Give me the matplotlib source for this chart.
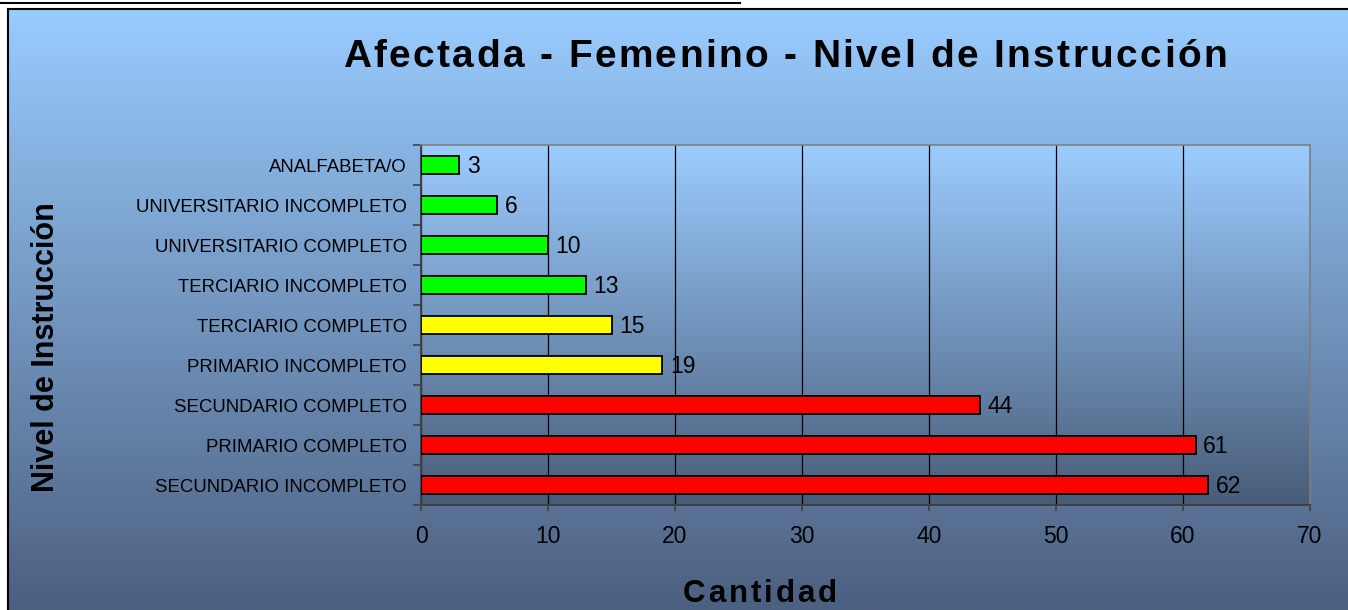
import numpy as np
import matplotlib
matplotlib.use("Agg")
import matplotlib.pyplot as plt
from matplotlib.colors import LinearSegmentedColormap
from matplotlib.lines import Line2D
from matplotlib.transforms import IdentityTransform

plt.rcParams["font.family"] = ["Liberation Sans", "DejaVu Sans"]

# data, bottom to top as drawn
categories = [
    "SECUNDARIO INCOMPLETO", "PRIMARIO COMPLETO", "SECUNDARIO COMPLETO",
    "PRIMARIO INCOMPLETO", "TERCIARIO COMPLETO", "TERCIARIO INCOMPLETO",
    "UNIVERSITARIO COMPLETO", "UNIVERSITARIO INCOMPLETO", "ANALFABETA/O",
]
counts = [62, 61, 44, 19, 15, 13, 10, 6, 3]
bar_colors = ["#FF0000", "#FF0000", "#FF0000", "#FFFF00", "#FFFF00",
              "#00FF00", "#00FF00", "#00FF00", "#00FF00"]
x_ticks = [0, 10, 20, 30, 40, 50, 60, 70]

W, H = 1348, 610
fig = plt.figure(figsize=(W / 100, H / 100), dpi=100)
fig.patch.set_facecolor("white")


def spaced_text(cx, baseline, s, size, width):
    """Bold text drawn char by char, stretched to `width` px (Excel-like tracking)."""
    r = fig.canvas.get_renderer()

    def w(t):
        tt = fig.text(0, 0, t + "|", fontsize=size, fontweight="bold",
                      transform=IdentityTransform())
        ww = tt.get_window_extent(r).width
        tt.remove()
        return ww

    bar = w("")
    offs = [w(s[:i]) - bar for i in range(len(s))]
    natural = w(s) - bar
    gap = (width - natural) / (len(s) - 1)
    x0 = cx - width / 2
    for i, ch in enumerate(s):
        fig.text(x0 + offs[i] + gap * i, baseline, ch, fontsize=size,
                 fontweight="bold", ha="left", va="baseline",
                 transform=IdentityTransform(), zorder=5)


# chart-area background gradient (below top border)
bg = fig.add_axes([8 / W, 0, 1 - 8 / W, 1 - 9 / H], zorder=0)
bg_cmap = LinearSegmentedColormap.from_list("bg", ["#4C6080", "#99CCFF"])
bg.imshow(np.linspace(0, 1, 256).reshape(-1, 1), aspect="auto", cmap=bg_cmap,
          origin="lower", extent=[0, 1, 0, 1])
bg.set_axis_off()

ax = fig.add_axes([421 / W, 1 - 505 / H, 889 / W, 360 / H], zorder=1)
ax.set_facecolor("none")
pa_cmap = LinearSegmentedColormap.from_list("pa", ["#485C78", "#9CCCFF"])
ax.imshow(np.linspace(0, 1, 256).reshape(-1, 1), aspect="auto", cmap=pa_cmap,
          origin="lower", extent=[0, 1, 0, 1], transform=ax.transAxes, zorder=0)

y = np.arange(len(categories))
ax.barh(y, counts, height=0.43, color=bar_colors, edgecolor="black",
        linewidth=1.3, zorder=3)
for yi, v in zip(y, counts):
    ax.text(v + 0.6, yi - 0.03, str(v), va="center", ha="left", fontsize=16.5,
            color="black", zorder=4)

ax.set_xlim(0, 70)
ax.set_ylim(-0.5, len(categories) - 0.5)
ax.set_xticks(x_ticks)
ax.set_xticklabels([str(t) for t in x_ticks], fontsize=16.5)
ax.set_yticks(y)
ax.set_yticklabels(categories, fontsize=13.4)
ax.set_yticks(np.arange(-0.5, len(categories), 1), minor=True)
ax.tick_params(axis="y", which="major", length=0, pad=10)
ax.tick_params(axis="y", which="minor", length=5.5, color="#404040", width=1.2)
ax.tick_params(axis="x", length=4.3, color="#404040", width=1.2, pad=10)
ax.xaxis.grid(True, color="black", linewidth=0.9, zorder=1)
ax.set_axisbelow(True)

for side in ["top", "right"]:
    ax.spines[side].set_color("#808080")
    ax.spines[side].set_linewidth(1.2)
for side in ["left", "bottom"]:
    ax.spines[side].set_color("#404040")
    ax.spines[side].set_linewidth(1.4)

spaced_text(785, H - 67, "Afectada - Femenino - Nivel de Instrucción", 28, 884)
spaced_text(760, H - 602, "Cantidad", 22.5, 154)
fig.text(46 / W, 1 - 347 / H, "Nivel de Instrucción", ha="center",
         va="center", rotation=90, fontsize=22, fontweight="bold", zorder=5)

# outer frame lines
fig.add_artist(Line2D([0, 740 / W], [1 - 3 / H] * 2, color="black",
                      linewidth=1.5, transform=fig.transFigure, zorder=6))
fig.add_artist(Line2D([8 / W, 1], [1 - 9 / H] * 2, color="black",
                      linewidth=1.5, transform=fig.transFigure, zorder=6))
fig.add_artist(Line2D([8 / W] * 2, [0, 1 - 9 / H], color="black",
                      linewidth=1.5, transform=fig.transFigure, zorder=6))

fig.savefig("out.png", dpi=100)
